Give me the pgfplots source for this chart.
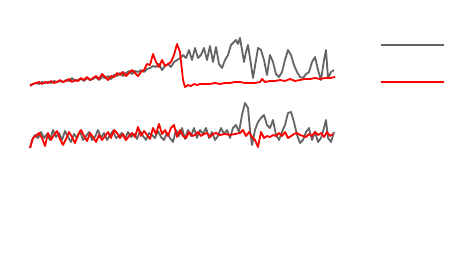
\documentclass[border=0pt]{standalone}
\usepackage{pgfplots}
\pgfplotsset{compat=1.18}
\definecolor{cgray}{RGB}{100,100,100}
\definecolor{cred}{RGB}{255,0,0}
\begin{document}
\begin{tikzpicture}
\begin{axis}[
  scale only axis, width=470bp, height=266bp,
  xmin=0, xmax=470, ymin=0, ymax=266, y dir=reverse,
  hide axis, clip=false,
  legend style={at={(axis cs:380,26)}, anchor=north west, draw=none, fill=none,
    inner sep=0pt, row sep=0pt, nodes={minimum height=37bp, inner sep=0pt}},
  legend image code/.code={\draw[#1, line width=2.2bp] (0bp,0bp) -- (63bp,0bp);},
  every axis plot/.append style={line width=1.8bp, line join=round},
]
% top panel, series 1 (gray)
\addplot[cgray, no markers] coordinates {
(30,85)(33,84)(36,83)(39,84)(42,82)(45,83)(48,82)(51,83)(54,81)(57,82)(60,81)(63,82)(66,80)(69,81)(72,78)(75,81)(78,80)(81,79)(84,81)(87,78)(90,80)(93,79)(96,77)(99,80)(102,77)(105,78)(108,76)(111,79)(114,75)(117,76)(120,73)(123,76)(126,73)(129,71)(132,74)(135,71)(138,72)(141,70)(144,72)(147,69)(150,68)(153,66)(156,67)(159,64)(162,70)(165,66)(168,64)(171,67)(174,62)(177,60)(180,58)(183,55)(186,58)(189,50)(192,60)(195,48)(198,58)(201,55)(204,48)(207,60)(210,46)(213,62)(216,47)(219,64)(222,68)(225,60)(228,55)(231,45)(234,42)(236,40)(238,44)(240,38)(242,50)(244,62)(246,52)(248,45)(250,58)(253,78)(256,60)(258,48)(261,50)(264,60)(267,75)(270,55)(273,62)(276,74)(279,77)(282,72)(285,60)(288,50)(291,55)(294,65)(297,72)(300,77)(303,78)(306,74)(309,72)(312,62)(315,57)(318,70)(321,80)(324,60)(326,50)(328,78)(331,72)(334,70)
};
\addlegendentry{}
% top panel, series 2 (red)
\addplot[cred, no markers] coordinates {
(30,86)(33,84)(36,83)(39,82)(42,84)(45,82)(48,83)(51,81)(54,83)(57,82)(60,80)(63,82)(66,81)(69,79)(72,82)(75,80)(78,81)(81,78)(84,80)(87,77)(90,80)(93,78)(96,76)(99,79)(102,74)(105,77)(108,80)(111,76)(114,77)(117,73)(120,75)(123,72)(126,76)(129,73)(132,70)(135,73)(138,76)(141,72)(144,70)(147,64)(150,65)(153,54)(156,62)(159,67)(162,60)(165,66)(168,64)(171,62)(174,55)(177,44)(180,52)(183,80)(185,87)(188,85)(191,86)(194,84)(197,85)(200,84)(205,84)(210,84)(215,83)(220,84)(225,83)(230,83)(235,82)(240,82)(245,83)(250,83)(255,83)(260,82)(262,79)(265,82)(270,81)(275,81)(280,80)(285,81)(290,79)(295,81)(300,80)(305,79)(310,79)(315,78)(320,79)(325,78)(330,78)(335,77)
};
\addlegendentry{}
% bottom panel, series 1 (gray)
\addplot[cgray, no markers, forget plot] coordinates {
(30,148)(32,140)(35,135)(38,138)(41,132)(44,138)(47,134)(50,140)(53,130)(56,137)(59,133)(62,140)(65,131)(68,137)(71,142)(74,134)(77,138)(80,131)(83,140)(86,136)(89,132)(92,140)(95,137)(98,130)(101,138)(104,133)(107,140)(110,135)(113,131)(116,138)(119,136)(122,133)(125,139)(128,132)(131,137)(134,134)(137,139)(140,131)(143,136)(146,140)(149,133)(152,135)(155,138)(158,131)(161,137)(164,140)(167,133)(170,138)(173,142)(176,130)(179,136)(182,128)(185,139)(188,130)(191,136)(194,128)(197,138)(200,130)(203,134)(206,128)(209,138)(212,132)(215,140)(218,136)(221,128)(224,134)(227,130)(230,138)(233,128)(236,125)(239,132)(242,115)(245,103)(248,108)(250,130)(252,145)(255,130)(258,122)(261,118)(264,115)(267,125)(270,128)(273,120)(276,135)(279,140)(282,132)(285,125)(288,113)(291,112)(294,122)(297,135)(300,143)(303,140)(306,132)(309,128)(312,140)(315,132)(318,142)(321,138)(324,128)(326,120)(328,138)(331,142)(334,132)
};
% bottom panel, series 2 (red)
\addplot[cred, no markers, forget plot] coordinates {
(30,148)(33,138)(36,136)(39,133)(42,138)(45,146)(48,133)(51,140)(54,135)(57,131)(60,139)(63,145)(66,139)(69,132)(72,137)(75,143)(78,135)(81,130)(84,136)(87,141)(90,133)(93,137)(96,142)(99,135)(102,140)(105,136)(108,132)(111,138)(114,130)(117,133)(120,138)(123,134)(126,140)(129,136)(132,133)(135,137)(138,127)(141,136)(144,131)(147,135)(150,139)(153,128)(156,134)(159,124)(162,134)(165,130)(168,136)(171,128)(174,125)(177,137)(180,130)(183,136)(186,138)(189,132)(192,136)(195,135)(198,132)(201,136)(204,134)(207,133)(210,137)(213,134)(216,133)(220,135)(225,134)(230,135)(235,134)(240,133)(243,130)(246,136)(249,132)(252,137)(255,140)(258,147)(261,132)(264,138)(267,136)(270,137)(273,135)(276,136)(279,133)(282,136)(285,132)(288,138)(291,136)(294,134)(297,133)(300,135)(303,136)(306,137)(309,134)(312,136)(315,132)(318,135)(321,133)(324,137)(327,132)(330,136)(333,134)
};
\end{axis}
\path (current axis.south west) rectangle (current axis.north east);
\end{tikzpicture}
\end{document}
